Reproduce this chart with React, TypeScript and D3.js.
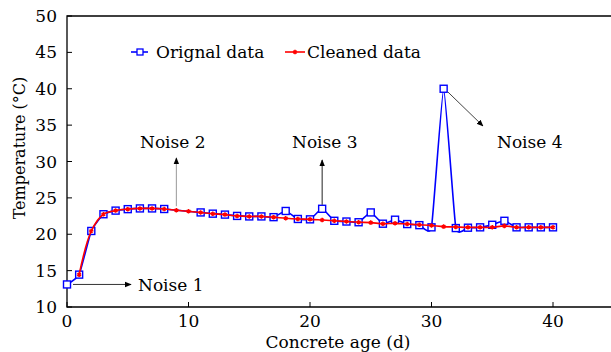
import React, { useRef, useEffect } from 'react';
import * as d3 from 'd3';

const WIDTH = 611;
const HEIGHT = 352;
const FONT = '"DejaVu Serif", "Liberation Serif", serif';
const FS = 17;

// daily readings, day 0..40 (null = missing in original data)
const days = d3.range(0, 41);
const original: (number | null)[] = [
  13.1, 14.45, 20.45, 22.75, 23.25, 23.45, 23.55, 23.55, 23.47, null,
  null, 23.0, 22.83, 22.7, 22.52, 22.45, 22.45, 22.35, 23.2, 22.1,
  22.05, 23.5, 21.85, 21.75, 21.65, 23.0, 21.45, 22.0, 21.4, 21.25,
  20.95, 40.0, 20.85, 20.9, 20.95, 21.3, 21.85, 20.95, 20.95, 20.95,
  20.95,
];
const cleaned: (number | null)[] = [
  null, 14.45, 20.45, 22.75, 23.25, 23.45, 23.55, 23.55, 23.47, 23.3,
  23.15, 23.0, 22.83, 22.7, 22.52, 22.45, 22.45, 22.35, 22.2, 22.1,
  22.05, 21.95, 21.85, 21.75, 21.65, 21.6, 21.45, 21.5, 21.4, 21.3,
  21.2, 21.05, 21.0, 20.95, 20.95, 20.95, 21.15, 20.95, 20.95, 20.95,
  20.95,
];
const xTicks = [0, 10, 20, 30, 40];
const yTicks = [10, 15, 20, 25, 30, 35, 40, 45, 50];
const seriesNames = ['Orignal data', 'Cleaned data'];

const BLUE = '#0000FF';
const RED = '#FF0000';

const App: React.FC = () => {
  const svgRef = useRef<SVGSVGElement>(null);

  useEffect(() => {
    if (!svgRef.current) return;
    const svg = d3.select(svgRef.current);
    svg.selectAll('*').remove();

    const left = 67;
    const top = 16;
    const bottom = 307;
    const x = d3.scaleLinear().domain([0, 45]).range([left, left + 45 * 12.15]);
    const y = d3.scaleLinear().domain([10, 50]).range([bottom, top]);

    const defs = svg.append('defs');
    defs.append('marker')
      .attr('id', 'arrow')
      .attr('viewBox', '0 0 10 10')
      .attr('refX', 9)
      .attr('refY', 5)
      .attr('markerWidth', 7)
      .attr('markerHeight', 7)
      .attr('markerUnits', 'userSpaceOnUse')
      .attr('orient', 'auto')
      .append('path')
      .attr('d', 'M0,1 L10,5 L0,9 Z')
      .attr('fill', '#000');

    // frame (right edge falls just outside the picture)
    const x0 = x(0);
    const x1 = x(45);
    svg.append('path')
      .attr('d', `M${x0},${y(50)} L${x1},${y(50)} L${x1},${y(10)} L${x0},${y(10)} Z`)
      .attr('fill', 'none')
      .attr('stroke', '#000')
      .attr('stroke-width', 1.3);

    // ticks point inward
    yTicks.forEach((v) => {
      svg.append('line')
        .attr('x1', x0).attr('x2', x0 + 5)
        .attr('y1', y(v)).attr('y2', y(v))
        .attr('stroke', '#000').attr('stroke-width', 1);
      svg.append('text')
        .attr('x', 57).attr('y', y(v))
        .attr('text-anchor', 'end')
        .attr('dominant-baseline', 'central')
        .style('font-family', FONT).attr('font-size', FS)
        .text(String(v));
    });
    xTicks.forEach((v) => {
      svg.append('line')
        .attr('x1', x(v)).attr('x2', x(v))
        .attr('y1', bottom).attr('y2', bottom - 5)
        .attr('stroke', '#000').attr('stroke-width', 1);
      svg.append('text')
        .attr('x', x(v)).attr('y', 327)
        .attr('text-anchor', 'middle')
        .style('font-family', FONT).attr('font-size', FS)
        .text(String(v));
    });

    // axis titles
    svg.append('text')
      .attr('transform', `translate(25,148) rotate(-90)`)
      .attr('text-anchor', 'middle')
      .style('font-family', FONT).attr('font-size', 16)
      .text('Temperature (°C)');
    svg.append('text')
      .attr('x', 338).attr('y', 348)
      .attr('text-anchor', 'middle')
      .style('font-family', FONT).attr('font-size', FS)
      .text('Concrete age (d)');

    const origPts = days.map((d, i) => [d, original[i]] as [number, number | null]).filter((p) => p[1] !== null) as [number, number][];
    const cleanPts = days.map((d, i) => [d, cleaned[i]] as [number, number | null]).filter((p) => p[1] !== null) as [number, number][];
    const blueLine = d3.line<[number, number]>().x((p) => x(p[0])).y((p) => y(p[1])).curve(d3.curveCardinal.tension(0.6));
    const redLine = d3.line<[number, number]>().x((p) => x(p[0])).y((p) => y(p[1])).curve(d3.curveCatmullRom.alpha(0.5));

    // original series
    svg.append('path')
      .attr('d', blueLine(origPts) ?? '')
      .attr('fill', 'none')
      .attr('stroke', BLUE)
      .attr('stroke-width', 1.6);
    svg.selectAll('rect.orig')
      .data(origPts)
      .enter()
      .append('rect')
      .attr('x', (p) => x(p[0]) - 3.5)
      .attr('y', (p) => y(p[1]) - 3.5)
      .attr('width', 7).attr('height', 7)
      .attr('fill', '#fff')
      .attr('stroke', BLUE)
      .attr('stroke-width', 1.4);

    // cleaned series
    svg.append('path')
      .attr('d', redLine(cleanPts) ?? '')
      .attr('fill', 'none')
      .attr('stroke', RED)
      .attr('stroke-width', 1.6);
    const star = d3.symbol().type(d3.symbolAsterisk).size(14);
    svg.selectAll('path.clean')
      .data(cleanPts)
      .enter()
      .append('path')
      .attr('transform', (p) => `translate(${x(p[0])},${y(p[1])})`)
      .attr('d', star() ?? '')
      .attr('fill', 'none')
      .attr('stroke', RED)
      .attr('stroke-width', 1.5);

    // legend
    const ly = 52;
    svg.append('line').attr('x1', 131).attr('x2', 148).attr('y1', ly).attr('y2', ly)
      .attr('stroke', BLUE).attr('stroke-width', 1.6);
    svg.append('rect').attr('x', 137).attr('y', ly - 3).attr('width', 6).attr('height', 6)
      .attr('fill', '#fff').attr('stroke', BLUE).attr('stroke-width', 1.3);
    svg.append('text').attr('x', 156).attr('y', ly).attr('dominant-baseline', 'central')
      .style('font-family', FONT).attr('font-size', FS).text(seriesNames[0]);
    svg.append('line').attr('x1', 285).attr('x2', 305).attr('y1', ly).attr('y2', ly)
      .attr('stroke', RED).attr('stroke-width', 1.6);
    svg.append('path').attr('transform', `translate(295,${ly})`).attr('d', star() ?? '')
      .attr('fill', 'none').attr('stroke', RED).attr('stroke-width', 1.5);
    svg.append('text').attr('x', 307).attr('y', ly).attr('dominant-baseline', 'central')
      .style('font-family', FONT).attr('font-size', FS).text(seriesNames[1]);

    // annotations
    const note = (tx: number, ty: number, label: string) =>
      svg.append('text').attr('x', tx).attr('y', ty).attr('dominant-baseline', 'central')
        .style('font-family', FONT).attr('font-size', FS).text(label);
    const arrow = (ax: number, ay: number, bx: number, by: number, color: string) =>
      svg.append('line').attr('x1', ax).attr('y1', ay).attr('x2', bx).attr('y2', by)
        .attr('stroke', color).attr('stroke-width', 1).attr('marker-end', 'url(#arrow)');

    arrow(x(0) + 6, y(13.1), 131, y(13.1), '#333');
    note(138, 285, 'Noise 1');
    arrow(x(9), y(23.3) - 4, x(9), 158, '#999');
    note(140, 142, 'Noise 2');
    arrow(x(21), y(23.5) - 4, x(21), 160, '#222');
    note(292, 142, 'Noise 3');
    arrow(x(31) + 4, y(40) + 3, 483, 126, '#444');
    note(497, 142, 'Noise 4');
  }, []);

  return (
    <>
      <style>{'body{margin:0}'}</style>
      <svg ref={svgRef} width={WIDTH} height={HEIGHT} style={{ display: 'block', background: '#fff' }} />
    </>
  );
};

export default App;
